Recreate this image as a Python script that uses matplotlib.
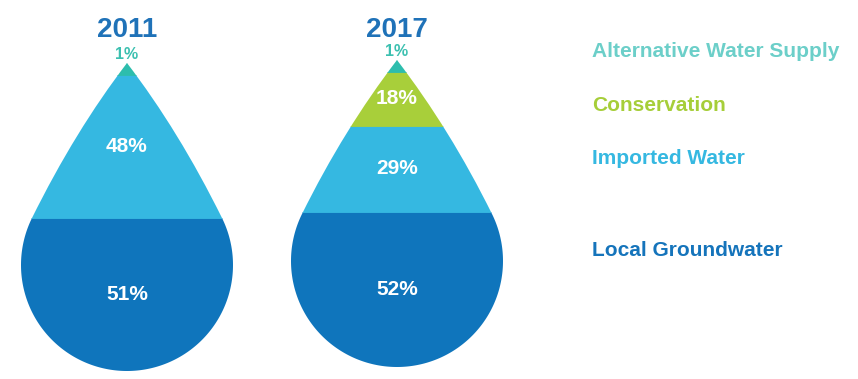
import numpy as np
import matplotlib.pyplot as plt
from matplotlib.path import Path
from matplotlib.patches import PathPatch

plt.rcParams['font.family'] = ['Liberation Sans', 'DejaVu Sans']

# ---- data ----
years = ['2011', '2017']
sources = ['Local Groundwater', 'Imported Water', 'Conservation', 'Alternative Water Supply']
values_2011 = [51, 48, 0, 1]
values_2017 = [52, 29, 18, 1]
values = [values_2011, values_2017]

fill_colors = ['#0f75bc', '#35b8e1', '#a8cf3a', '#2dbdad']
legend_colors = ['#1574bb', '#35b8e1', '#a6ce39', '#6ccfc9']
MIN_DISPLAY = 4  # smallest displayed share so that tiny slices remain visible

# ---- layout (pixel-like coordinates) ----
W, H = 858, 379
drops = [dict(cx=127, cy=265, r=106, tip=63),
         dict(cx=397, cy=261, r=106, tip=60)]
TIP_SLOPE = 0.766              # half-width growth per pixel just below the tip
JOIN_ANGLE = np.radians(26.3)  # where the side curve meets the round bottom
TITLE_BASELINE = 37
legend_x = 592
legend_baseline = {'Alternative Water Supply': 57, 'Conservation': 111,
                   'Imported Water': 164, 'Local Groundwater': 256}

fig = plt.figure(figsize=(W / 100, H / 100), dpi=100)
ax = fig.add_axes([0, 0, 1, 1])
ax.set_xlim(0, W)
ax.set_ylim(H, 0)
ax.axis('off')


def drop_path(cx, cy, r, tip):
    D = cy - tip
    wp = r * np.cos(JOIN_ANGLE)
    sp = D - r * np.sin(JOIN_ANGLE)
    ta = np.tan(JOIN_ANGLE)
    sc = (wp - ta * sp) / (TIP_SLOPE - ta)
    wc = TIP_SLOPE * sc
    t = np.linspace(np.pi - JOIN_ANGLE, 2 * np.pi + JOIN_ANGLE, 300)
    arc = list(zip(cx + r * np.cos(t), cy - r * np.sin(t)))
    verts = ([(cx, tip), (cx - wc, tip + sc), arc[0]] + arc[1:] +
             [(cx + wc, tip + sc), (cx, tip), (cx, tip)])
    codes = ([Path.MOVETO, Path.CURVE3, Path.CURVE3] + [Path.LINETO] * (len(arc) - 1) +
             [Path.CURVE3, Path.CURVE3, Path.CLOSEPOLY])
    return Path(verts, codes)


for year, vals, g in zip(years, values, drops):
    cx, cy, r, tip = g['cx'], g['cy'], g['r'], g['tip']
    bottom_px = cy + r
    total_px = bottom_px - tip
    patch = PathPatch(drop_path(cx, cy, r, tip), facecolor='none', edgecolor='none', lw=0)
    ax.add_patch(patch)

    disp = [max(v, MIN_DISPLAY) if v > 0 else 0 for v in vals]
    scale = total_px / sum(disp)
    base = bottom_px
    nz = [i for i, v in enumerate(vals) if v > 0]
    for i, (v, dv, col) in enumerate(zip(vals, disp, fill_colors)):
        if v <= 0:
            continue
        h = dv * scale
        bars = ax.bar([cx], [-h], bottom=[base], width=2 * r + 10, color=col,
                      edgecolor=col, linewidth=0.6)
        for b in bars:
            b.set_clip_path(patch)
        if i == nz[-1]:
            ax.annotate(f'{v}%', xy=(cx, base - h), xytext=(0, 4),
                        textcoords='offset pixels', ha='center', va='baseline',
                        fontsize=11.5, fontweight='bold', color='#3cc0b0')
        else:
            ax.bar_label(bars, labels=[f'{v}%'], label_type='center',
                         color='white', fontsize=15, fontweight='bold')
        base -= h

    ax.text(cx, TITLE_BASELINE, year, ha='center', va='baseline', fontsize=20,
            fontweight='bold', color='#1f72b8')

for src, col in zip(sources, legend_colors):
    ax.text(legend_x, legend_baseline[src], src, ha='left', va='baseline', fontsize=15,
            fontweight='bold', color=col)

fig.savefig('out.png', dpi=100)
